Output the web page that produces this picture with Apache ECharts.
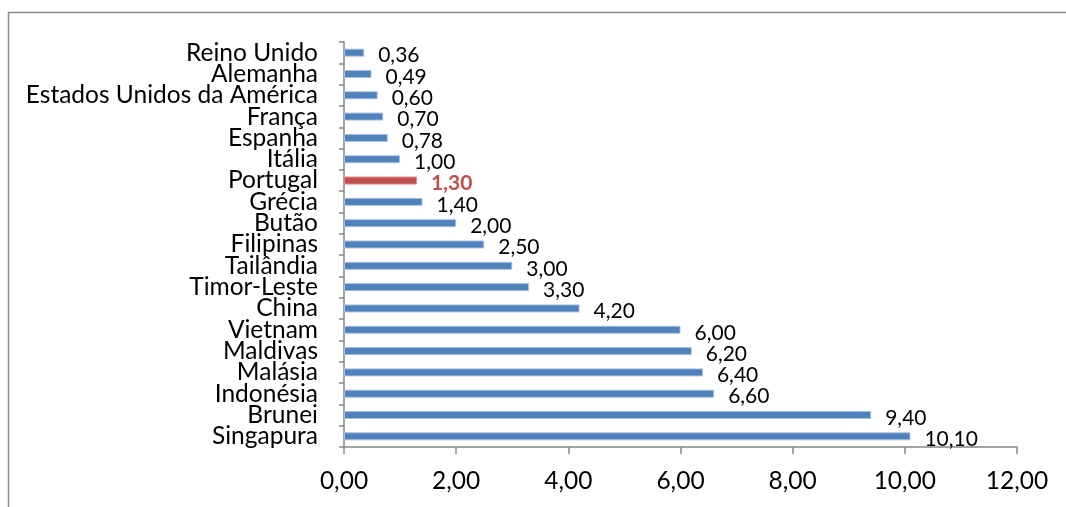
<!DOCTYPE html>
<html>
<head>
<meta charset="utf-8">
<script src="https://cdn.jsdelivr.net/npm/echarts@6/dist/echarts.min.js"></script>
<style>html,body{margin:0;padding:0;background:#fff;}#c{width:1066px;height:507px;}</style>
</head>
<body>
<div id="c"></div>
<script>
const categories = ['Singapura','Brunei','Indonésia','Malásia','Maldivas','Vietnam','China','Timor-Leste','Tailândia','Filipinas','Butão','Grécia','Portugal','Itália','Espanha','França','Estados Unidos da América','Alemanha','Reino Unido'];
const values = [10.10, 9.40, 6.60, 6.40, 6.20, 6.00, 4.20, 3.30, 3.00, 2.50, 2.00, 1.40, 1.30, 1.00, 0.78, 0.70, 0.60, 0.49, 0.36];
const highlight = 'Portugal';
const xTicks = [0, 2, 4, 6, 8, 10, 12];

const fmt = v => v.toFixed(2).replace('.', ',');
const FONT = 'Lato';

const data = values.map((v, i) => {
  const hi = categories[i] === highlight;
  return {
    value: v,
    itemStyle: hi ? { color: '#C0504D', borderColor: '#d98583' } : undefined,
    label: hi ? { color: '#C0504D', fontWeight: 'bold' } : undefined
  };
});

const chart = echarts.init(document.getElementById('c'), null, { renderer: 'canvas' });
chart.setOption({
  animation: false,
  backgroundColor: '#fff',
  graphic: [{
    type: 'rect',
    shape: { x: 8.5, y: 12.5, width: 1200, height: 700 },
    style: { fill: 'none', stroke: '#8a8a8a', lineWidth: 1.5 },
    silent: true
  }],
  grid: { left: 344, right: 49, top: 42, bottom: 60, containLabel: false },
  xAxis: {
    type: 'value',
    min: xTicks[0],
    max: xTicks[xTicks.length - 1],
    interval: 2,
    axisLine: { show: true, lineStyle: { color: '#868686', width: 1.5 } },
    axisTick: { show: true, length: 7, lineStyle: { color: '#868686', width: 1.5 } },
    splitLine: { show: false },
    axisLabel: { formatter: v => fmt(v), fontFamily: FONT, fontSize: 24.5, color: '#000', margin: 22 }
  },
  yAxis: {
    type: 'category',
    data: categories,
    axisLine: { show: true, lineStyle: { color: '#868686', width: 1.5 } },
    axisTick: { show: true, length: 5, lineStyle: { color: '#868686', width: 1.5 } },
    axisLabel: { fontFamily: FONT, fontSize: 24.5, color: '#000', margin: 26, interval: 0 }
  },
  series: [{
    type: 'bar',
    data: data,
    barWidth: 8,
    itemStyle: { color: '#4F81BD', borderColor: '#a7bfdc', borderWidth: 1 },
    label: {
      show: true,
      position: 'right',
      distance: 14,
      offset: [0, 3],
      formatter: p => fmt(p.value),
      fontFamily: FONT,
      fontSize: 21,
      color: '#000'
    }
  }]
});
</script>
</body>
</html>
